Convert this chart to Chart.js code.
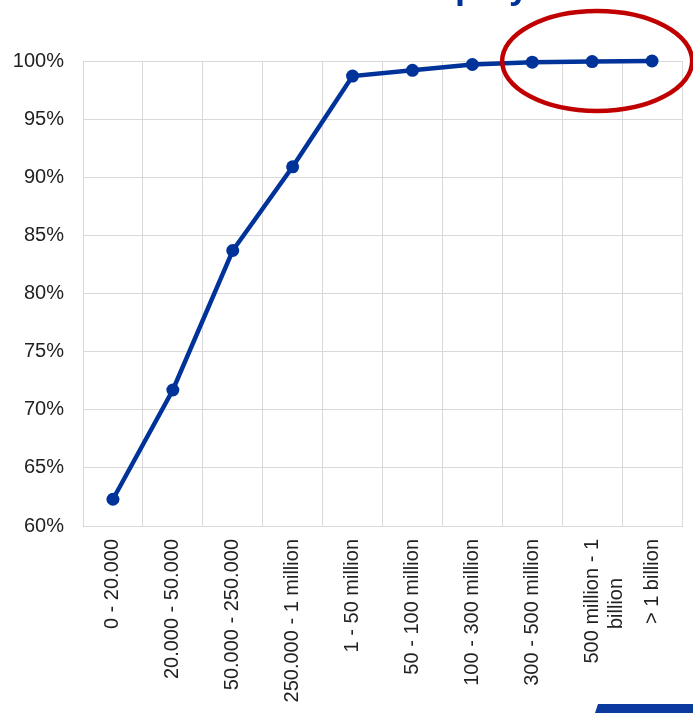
<!DOCTYPE html>
<html>
<head>
<meta charset="utf-8">
<script src="https://cdn.jsdelivr.net/npm/chart.js@4.4.1/dist/chart.umd.min.js"></script>
<style>
  html, body { margin: 0; padding: 0; background: #fff; }
  #wrap { position: relative; width: 693px; height: 713px; }
</style>
</head>
<body>
<div id="wrap"><canvas id="lineChart"></canvas></div>
<script>
/* eslint-disable no-undef */
// categorias del eje x (el segundo renglon lleva espacios para centrarlo)
const categorias = [
  '0 - 20.000',
  '20.000 - 50.000',
  '50.000 - 250.000',
  '250.000 - 1 million',
  '1 - 50 million',
  '50 - 100 million',
  '100 - 300 million',
  '300 - 500 million',
  ['500 million - 1', 'billion       '],
  '> 1 billion'
]
// porcentaje acumulado
const acumulado = [62.3, 71.7, 83.7, 90.9, 98.7, 99.2, 99.7, 99.9, 99.95, 100]
const ticksY = { min: 60, max: 100, paso: 5 }
const tituloVisible = 'employ'

const azul = '#003399'
const gris = '#d9d9d9'

// dibuja el titulo cortado, el circulo rojo y la franja azul de abajo
const decoraciones = {
  id: 'decoraciones',
  afterDraw (chart) {
    const { ctx, scales } = chart
    ctx.save()
    // titulo (solo se ven los trazos de abajo)
    ctx.fillStyle = azul
    ctx.font = 'bold 36px "Liberation Sans", Arial, sans-serif'
    ctx.textBaseline = 'alphabetic'
    ctx.fillText(tituloVisible, 403, -2)
    // elipse roja alrededor de los ultimos puntos
    const cx = scales.x.getPixelForValue(8) + 5
    const cy = scales.y.getPixelForValue(ticksY.max)
    ctx.strokeStyle = '#c00000'
    ctx.lineWidth = 4.5
    ctx.beginPath()
    ctx.ellipse(cx, cy, 95, 50, 0, 0, Math.PI * 2)
    ctx.stroke()
    // franja azul en la esquina
    ctx.fillStyle = '#0a3a9e'
    ctx.beginPath()
    ctx.moveTo(598, 704)
    ctx.lineTo(693, 704)
    ctx.lineTo(693, 713)
    ctx.lineTo(595, 713)
    ctx.closePath()
    ctx.fill()
    ctx.restore()
  }
}

const ctx1 = document.getElementById('lineChart').getContext('2d')
const fuente = { family: '"Liberation Sans", Arial, sans-serif', size: 20 }

// eslint-disable-next-line no-unused-vars
const myChart1 = new Chart(ctx1, {
  type: 'line',
  data: {
    labels: categorias,
    datasets: [{
      data: acumulado,
      borderColor: azul,
      backgroundColor: azul,
      borderWidth: 4.5,
      pointRadius: 6.5,
      pointHoverRadius: 6.5,
      pointBorderWidth: 0,
      tension: 0,
      clip: false
    }]
  },
  options: {
    responsive: true,
    maintainAspectRatio: false,
    animation: false,
    layout: { padding: { top: 61, right: 11, left: 0, bottom: 0 } },
    plugins: {
      legend: { display: false },
      tooltip: { enabled: false }
    },
    scales: {
      x: {
        offset: true,
        grid: { offset: true, color: gris, lineWidth: 1, drawTicks: false },
        border: { color: gris },
        ticks: {
          color: '#222',
          font: fuente,
          minRotation: 90,
          maxRotation: 90,
          autoSkip: false,
          padding: 13
        },
        afterFit: (scale) => { scale.height = 187 }
      },
      y: {
        min: ticksY.min,
        max: ticksY.max,
        grid: { color: gris, lineWidth: 1, drawTicks: false },
        border: { color: gris },
        ticks: {
          stepSize: ticksY.paso,
          color: '#222',
          font: fuente,
          padding: 19,
          callback: (v) => v + '%'
        },
        afterFit: (scale) => { scale.width = 83 }
      }
    }
  },
  plugins: [decoraciones]
})
</script>
</body>
</html>
